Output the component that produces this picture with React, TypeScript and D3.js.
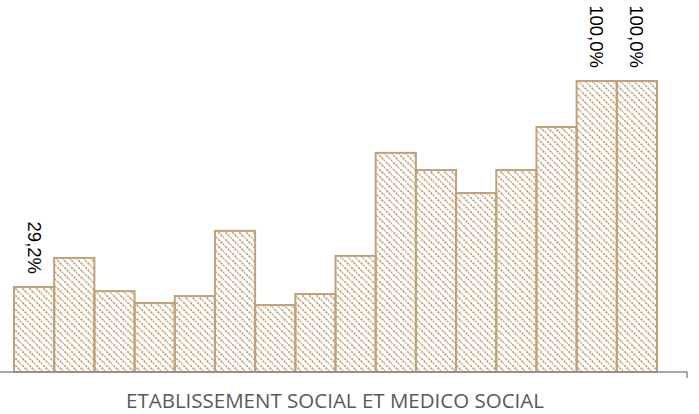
import React from "react";
import * as d3 from "d3";

const categories: string[] = [
  "C1", "C2", "C3", "C4", "C5", "C6", "C7", "C8",
  "C9", "C10", "C11", "C12", "C13", "C14", "C15", "C16",
];
const values: number[] = [
  29.2, 39.2, 27.8, 23.7, 26.1, 48.5, 23.0, 26.8,
  39.9, 75.3, 69.4, 61.5, 69.4, 84.2, 100.0, 100.0,
];
// Only some bars carry a value label
const labelled: number[] = [0, 14, 15];
const axisTitle = "ETABLISSEMENT SOCIAL ET MEDICO SOCIAL";

const W = 699;
const H = 414;
const plot = { left: 14, right: 657, top: 81, bottom: 372 };
const barStroke = "#bfa27a";
const hatch = "#c2a378";

export default function App() {
  const x = d3
    .scaleBand<string>()
    .domain(categories)
    .range([plot.left, plot.right])
    .paddingInner(0)
    .paddingOuter(0);
  const y = d3.scaleLinear().domain([0, 100]).range([plot.bottom, plot.top]);
  const fmt = (v: number) => d3.format(".1f")(v).replace(".", ",") + "%";

  return (
    <svg
      width={W}
      height={H}
      style={{ position: "absolute", left: 0, top: 0, background: "#fff" }}
    >
      <defs>
        <pattern
          id="dnDiag"
          width={7}
          height={7}
          patternUnits="userSpaceOnUse"
        >
          <path
            d="M-1,-1 L8,8 M-4.5,2.5 L2.5,9.5 M2.5,-4.5 L9.5,2.5"
            stroke={hatch}
            strokeWidth={1.8}
            strokeDasharray="2.3 1"
          />
        </pattern>
      </defs>

      {values.map((v, i) => {
        const x0 = x(categories[i])!;
        return (
          <rect
            key={categories[i]}
            x={x0}
            y={y(v)}
            width={x.bandwidth()}
            height={y(0) - y(v)}
            fill="url(#dnDiag)"
            stroke={barStroke}
            strokeWidth={2}
          />
        );
      })}

      {labelled.map((i) => {
        const cx = x(categories[i])! + x.bandwidth() / 2;
        const ty = y(values[i]) - 13;
        return (
          <text
            key={"l" + i}
            transform={`translate(${cx},${ty}) rotate(90)`}
            textAnchor="end"
            dominantBaseline="central"
            fontFamily="'Liberation Sans', Arial, sans-serif"
            fontSize={18.5}
            fill="#000"
          >
            {fmt(values[i])}
          </text>
        );
      })}

      {/* category axis */}
      <path
        d={`M0,${plot.bottom} H687 V378`}
        fill="none"
        stroke="#8c8c8c"
        strokeWidth={1.5}
      />

      <text
        x={335}
        y={408}
        textAnchor="middle"
        fontFamily="'Open Sans', sans-serif"
        fontSize={20.5}
        fill="#595959"
      >
        {axisTitle}
      </text>
    </svg>
  );
}
